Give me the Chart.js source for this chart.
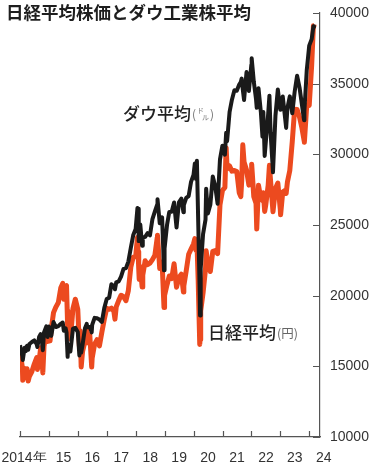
<!DOCTYPE html>
<html><head><meta charset="utf-8">
<script src="https://cdn.jsdelivr.net/npm/chart.js@4"></script>
<style>html,body{margin:0;padding:0;background:#fff}#wrap{width:370px;height:462px;position:relative}</style>
</head><body><div id="wrap"><canvas id="c" width="370" height="462"></canvas></div>
<script>
const dates = ['2014-01-01','2014-01-31','2014-02-05','2014-02-28','2014-03-14','2014-03-31','2014-04-14','2014-04-30','2014-05-31','2014-06-30','2014-07-31','2014-08-08','2014-08-31','2014-09-19','2014-09-30','2014-10-16','2014-10-31','2014-11-30','2014-12-16','2014-12-31',
'2015-01-15','2015-01-31','2015-02-28','2015-03-31','2015-04-30','2015-05-31','2015-06-24','2015-07-08','2015-07-31','2015-08-11','2015-08-25','2015-08-31','2015-09-29','2015-10-31','2015-11-30','2015-12-31',
'2016-01-20','2016-01-31','2016-02-12','2016-02-29','2016-03-31','2016-04-22','2016-04-30','2016-05-31','2016-06-24','2016-06-30','2016-07-31','2016-08-31','2016-09-30','2016-10-31','2016-11-30','2016-12-31',
'2017-01-31','2017-02-28','2017-03-31','2017-04-14','2017-04-30','2017-05-31','2017-06-30','2017-07-31','2017-08-31','2017-09-30','2017-10-31','2017-11-30','2017-12-31',
'2018-01-23','2018-01-31','2018-02-08','2018-02-14','2018-02-28','2018-03-23','2018-03-31','2018-04-30','2018-05-31','2018-06-30','2018-07-31','2018-08-31','2018-09-30','2018-10-03','2018-10-31','2018-11-30','2018-12-24','2018-12-31',
'2019-01-31','2019-02-28','2019-03-31','2019-04-30','2019-05-31','2019-06-30','2019-07-31','2019-08-26','2019-08-31','2019-09-30','2019-10-31','2019-11-30','2019-12-31',
'2020-01-17','2020-01-31','2020-02-12','2020-02-28','2020-03-19','2020-03-23','2020-03-31','2020-04-30','2020-05-31','2020-06-08','2020-06-30','2020-07-31','2020-08-31','2020-09-30','2020-10-31','2020-11-30','2020-12-31',
'2021-01-31','2021-02-16','2021-02-28','2021-03-31','2021-04-30','2021-05-31','2021-06-30','2021-07-31','2021-08-20','2021-08-31','2021-09-14','2021-09-30','2021-10-31','2021-11-30','2021-12-31',
'2022-01-04','2022-01-31','2022-02-28','2022-03-09','2022-03-31','2022-04-30','2022-05-20','2022-05-31','2022-06-17','2022-06-30','2022-07-31','2022-08-16','2022-08-31','2022-09-30','2022-10-31','2022-11-30','2022-12-31',
'2023-01-04','2023-01-31','2023-02-28','2023-03-15','2023-03-31','2023-04-30','2023-05-31','2023-06-30','2023-07-31','2023-08-31','2023-09-30','2023-10-27','2023-10-31','2023-11-30','2023-12-31',
'2024-01-31','2024-02-22','2024-02-29'];

const dow = [16500,15700,15440,16320,16070,16460,16170,16580,16720,16830,16560,16370,17100,17280,17040,16140,17390,17830,17070,17820,
17320,17160,18130,17780,17840,18010,18100,17520,17690,17400,15670,16530,16050,17660,17720,17430,
15770,16470,15970,16520,17690,18000,17770,17790,17400,17930,18430,18400,18310,18140,19120,19760,
19860,20810,20660,20450,20940,21010,21350,21890,21950,22410,23380,24270,24720,
26210,26150,23860,24890,25030,23530,24100,24160,24420,24270,25420,25960,26460,26830,25120,25540,21790,23330,
25000,25920,25930,26590,24820,26600,26860,25900,26400,26920,27050,28050,28540,
29350,28260,29550,25410,20090,18590,21920,24350,25380,27570,25810,26430,28430,27780,26500,29640,30610,
29980,31520,30930,32980,33870,34530,34500,34940,35120,35360,34580,33840,35820,34480,36340,
36800,35130,33890,33290,34680,32980,31260,32990,29890,30780,32850,34150,31510,28730,32730,34590,33150,
33270,34090,32660,31870,33270,34100,32910,34410,35560,34720,33510,32420,33050,35950,37690,
38150,39070,38990];

const nikkei = [16100,14910,14010,14840,14330,14830,13960,14300,14630,15160,15620,14780,15420,16320,16170,14530,16410,17460,16760,17450,
16800,17670,18800,19210,19520,20560,20870,19740,20590,20720,17810,18890,16930,19080,19750,19030,
16420,17520,14950,16030,16760,17570,16670,17230,14950,15580,16570,16890,16450,17430,18310,19110,
19040,19120,18910,18340,19200,19650,20030,19930,19650,20360,22010,22720,22760,
24120,23100,21890,21150,22070,20620,21450,22470,22200,22300,22550,22870,24120,24270,21920,22350,19160,20010,
20770,21390,21210,22260,20600,21280,21520,20260,20700,21760,22930,23290,23660,
24040,23210,23860,21140,16550,16890,18920,20190,21880,23180,22290,21710,23140,23190,22980,26430,27440,
27660,30470,28970,29180,28810,28860,28790,27280,27010,28090,30670,29450,28890,27820,28790,
29300,27000,26530,24720,27820,26850,26740,27280,25960,26390,27800,29220,28090,25940,27590,27970,26090,
25720,27330,27450,27230,28040,28860,30890,33190,33170,32620,31860,30990,30860,33490,33460,
36290,39100,39170];

const yearTicks = [2014,2015,2016,2017,2018,2019,2020,2021,2022,2023,2024];
const yearLabels = ['2014年\u2002\u2002\u2002','15','16','17','18','19','20','21','22','23','24'];
const valueTicks = [10000,15000,20000,25000,30000,35000,40000];

function toYear(s){
  const [y,m,d] = s.split('-').map(Number);
  const a = Date.UTC(y,0,1), b = Date.UTC(y+1,0,1);
  return y + (Date.UTC(y,m-1,d) - a)/(b-a);
}
const xs = dates.map(toYear);
const dowPts = xs.map((x,i)=>({x, y: dow[i]}));
const nkPts = xs.map((x,i)=>({x, y: nikkei[i]}));

const AXIS = '#555';
const JP = '"Noto Sans CJK JP", sans-serif';

const decor = {
  id: 'decor',
  afterDraw(chart){
    const ctx = chart.ctx;
    const xS = chart.scales.x, yS = chart.scales.y;
    ctx.save();
    ctx.strokeStyle = AXIS; ctx.lineWidth = 1.2;
    ctx.beginPath();
    yS.ticks.forEach(t=>{
      const py = Math.round(yS.getPixelForValue(t.value))+0.5;
      ctx.moveTo(xS.right-7, py); ctx.lineTo(xS.right, py);
    });
    xS.ticks.forEach(t=>{
      const px = Math.round(xS.getPixelForValue(t.value))+0.5;
      ctx.moveTo(px, yS.bottom); ctx.lineTo(px, yS.bottom-6);
    });
    ctx.stroke();

    ctx.textBaseline = 'middle';
    ctx.textAlign = 'left';
    ctx.fillStyle = '#1e1e1e';
    ctx.font = 'bold 17.5px ' + JP;
    ctx.fillText('日経平均株価とダウ工業株平均', 6, 12);

    // Dow label
    ctx.font = '500 17px ' + JP;
    ctx.fillStyle = '#222';
    let x0 = 123, y0 = 114;
    ctx.fillText('ダウ平均', x0, y0);
    let w = ctx.measureText('ダウ平均').width;
    ctx.fillStyle = '#777';
    ctx.font = '12px ' + JP;
    ctx.fillText('(', x0+w+1, y0);
    ctx.font = '7px ' + JP;
    ctx.fillText('ド', x0+w+6, y0-4);
    ctx.fillText('ル', x0+w+11, y0+3);
    ctx.font = '12px ' + JP;
    ctx.fillText(')', x0+w+19, y0);

    // Nikkei label
    ctx.font = '500 17px ' + JP;
    ctx.fillStyle = '#222';
    x0 = 208; y0 = 333;
    ctx.fillText('日経平均', x0, y0);
    w = ctx.measureText('日経平均').width;
    ctx.fillStyle = '#666';
    ctx.font = '12.5px ' + JP;
    ctx.fillText('(円)', x0+w+1, y0);
    ctx.restore();
  }
};

new Chart(document.getElementById('c'), {
  type: 'line',
  data: {
    datasets: [
      {label: 'ダウ平均', data: dowPts, borderColor: '#1a1a1a', borderWidth: 4, pointRadius: 0, tension: 0, borderJoinStyle: 'round', order: 0},
      {label: '日経平均', data: nkPts, borderColor: '#ec4a1f', borderWidth: 5, pointRadius: 0, tension: 0, borderJoinStyle: 'round', order: 1}
    ]
  },
  options: {
    responsive: false, animation: false, devicePixelRatio: 1,
    layout: {padding: {left: 20, top: 13, right: 0, bottom: 0}},
    plugins: {legend: {display: false}, tooltip: {enabled: false}, title: {display: false}},
    scales: {
      x: {
        type: 'linear', min: 2014, max: 2024.37, position: 'bottom',
        afterBuildTicks: s => { s.ticks = yearTicks.map(v=>({value: v})); },
        afterFit: s => { s.height = 25; s.paddingLeft = 0; s.paddingRight = 0; },
        ticks: {
          callback: v => yearLabels[yearTicks.indexOf(v)],
          labelOffset: 14.5, maxRotation: 0, autoSkip: false, padding: 5,
          color: '#333', font: {family: '"Liberation Sans", Arial, sans-serif', size: 14}
        },
        grid: {display: false},
        border: {display: true, color: AXIS, width: 1.2}
      },
      y: {
        type: 'linear', min: 10000, max: 40000, position: 'right',
        afterBuildTicks: s => { s.ticks = valueTicks.map(v=>({value: v})); },
        afterFit: s => { s.width = 50; s.paddingTop = 0; s.paddingBottom = 0; },
        ticks: {
          callback: v => String(v), padding: 2,
          color: '#333', font: {family: '"Liberation Sans", Arial, sans-serif', size: 14}
        },
        grid: {display: false},
        border: {display: true, color: AXIS, width: 1.2}
      }
    }
  },
  plugins: [decor]
});
</script></body></html>
